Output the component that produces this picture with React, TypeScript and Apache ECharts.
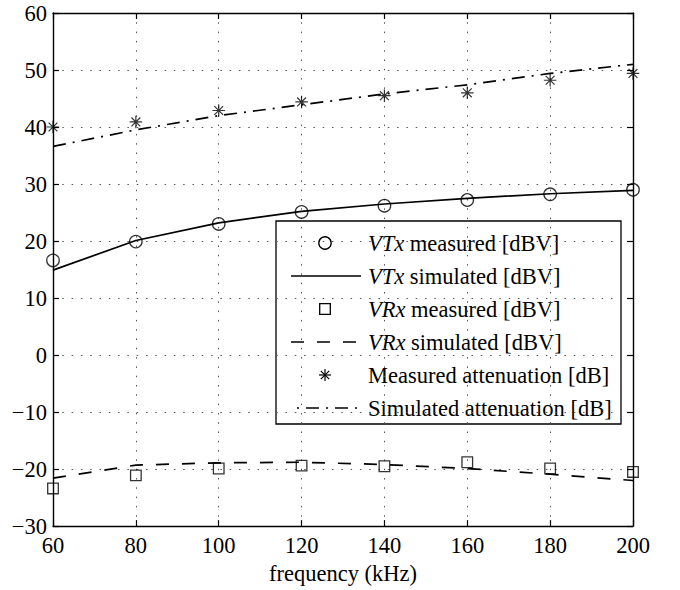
import React, { useEffect, useRef } from "react";
import * as echarts from "echarts";

const frequency = [60, 80, 100, 120, 140, 160, 180, 200];
const vtxMeasured = [16.6, 19.9, 23.0, 25.1, 26.2, 27.2, 28.2, 29.0];
const vtxSimulated = [14.9, 20.1, 23.2, 25.2, 26.5, 27.5, 28.3, 28.9];
const vrxMeasured = [-23.4, -21.1, -19.9, -19.4, -19.5, -18.8, -19.9, -20.5];
const vrxSimulated = [-21.6, -19.3, -18.9, -18.8, -19.2, -19.9, -20.9, -22.0];
const attMeasured = [40.0, 40.9, 42.9, 44.4, 45.5, 46.0, 48.2, 49.4];
const attSimulated = [36.6, 39.5, 42.0, 43.9, 45.8, 47.4, 49.4, 51.0];

const xTicks = { min: 60, max: 200, interval: 20 };
const yTicks = { min: -30, max: 60, interval: 10 };

const legendRows = [
  { text: "{i|VTx} measured [dBV]", kind: "circle" },
  { text: "{i|VTx} simulated [dBV]", kind: "solid" },
  { text: "{i|VRx} measured [dBV]", kind: "square" },
  { text: "{i|VRx} simulated [dBV]", kind: "dashed" },
  { text: "Measured attenuation [dB]", kind: "star" },
  { text: "Simulated attenuation [dB]", kind: "dashdot" },
];

const FONT = "Liberation Serif";
const FS = 22.5;
const STAR =
  "path://M0,-1L0,1M-1,0L1,0M-0.707,-0.707L0.707,0.707M-0.707,0.707L0.707,-0.707";
const DASHED = [13, 13];
const DASHDOT = [13, 7, 2, 7];
const LW = 1.7;

const pairs = (ys: number[]) => frequency.map((x, i) => [x, ys[i]]);
const fmtY = (v: number) => (v < 0 ? "\u2212" + Math.abs(v) : String(v));

function buildLegend() {
  const bx = 276, by = 221, bw = 345, bh = 203;
  const rowY = [243, 276, 309, 342, 375, 408];
  const symX = 325, lx1 = 291, lx2 = 361, tx = 368;
  const children: any[] = [
    {
      type: "rect",
      shape: { x: bx, y: by, width: bw, height: bh },
      style: { fill: "#fff", stroke: "#000", lineWidth: 1.3 },
    },
  ];
  legendRows.forEach((r, i) => {
    const y = rowY[i];
    if (r.kind === "circle") {
      children.push({
        type: "circle",
        shape: { cx: symX, cy: y, r: 6.2 },
        style: { fill: "none", stroke: "#000", lineWidth: 1.3 },
      });
    } else if (r.kind === "square") {
      children.push({
        type: "rect",
        shape: { x: symX - 5.3, y: y - 5.3, width: 10.6, height: 10.6 },
        style: { fill: "none", stroke: "#000", lineWidth: 1.3 },
      });
    } else if (r.kind === "star") {
      const s = 6, d = 4.2;
      const segs = [
        [0, -s, 0, s],
        [-s, 0, s, 0],
        [-d, -d, d, d],
        [-d, d, d, -d],
      ];
      segs.forEach((g) =>
        children.push({
          type: "line",
          shape: { x1: symX + g[0], y1: y + g[1], x2: symX + g[2], y2: y + g[3] },
          style: { stroke: "#000", lineWidth: 1.2 },
        })
      );
    } else {
      const style: any = { stroke: "#000", lineWidth: LW };
      if (r.kind === "dashed") style.lineDash = DASHED;
      if (r.kind === "dashdot") {
        style.lineDash = DASHDOT;
        style.lineDashOffset = 14;
      }
      children.push({
        type: "line",
        shape: { x1: lx1, y1: y, x2: lx2, y2: y },
        style,
      });
    }
    children.push({
      type: "text",
      x: tx,
      y: y,
      style: {
        text: r.text,
        fontSize: FS,
        fontFamily: FONT,
        fill: "#000",
        verticalAlign: "middle",
        align: "left",
        rich: {
          i: { fontStyle: "italic", fontSize: FS, fontFamily: FONT, fill: "#000" },
        },
      },
    });
  });
  return [{ type: "group", z: 100, children }];
}

export default function App() {
  const ref = useRef<HTMLDivElement>(null);
  useEffect(() => {
    if (!ref.current) return;
    const chart = echarts.init(ref.current, undefined, { renderer: "svg" });
    const axisLine = { show: true, onZero: false, lineStyle: { color: "#000", width: 1.4 } };
    const tick = { show: true, inside: true, length: 6, lineStyle: { color: "#000", width: 1.2 } };
    const split = {
      show: true,
      lineStyle: { color: "#555", width: 1, type: [1.5, 7.8] as any },
    };
    chart.setOption({
      animation: false,
      backgroundColor: "#fff",
      textStyle: { fontFamily: FONT },
      grid: { left: 53, right: 47, top: 13, bottom: 62, containLabel: false },
      xAxis: [
        {
          type: "value",
          position: "bottom",
          ...xTicks,
          axisLine,
          axisTick: tick,
          splitLine: split,
          axisLabel: { color: "#000", fontSize: FS, fontFamily: FONT, margin: 8 },
          name: "frequency (kHz)",
          nameLocation: "middle",
          nameGap: 34,
          nameTextStyle: { color: "#000", fontSize: FS, fontFamily: FONT },
        },
        {
          type: "value",
          position: "top",
          ...xTicks,
          axisLine,
          axisTick: tick,
          splitLine: { show: false },
          axisLabel: { show: false },
        },
      ],
      yAxis: [
        {
          type: "value",
          position: "left",
          ...yTicks,
          axisLine,
          axisTick: tick,
          splitLine: split,
          axisLabel: {
            color: "#000",
            fontSize: FS,
            fontFamily: FONT,
            margin: 6,
            formatter: fmtY,
          },
        },
        {
          type: "value",
          position: "right",
          ...yTicks,
          axisLine,
          axisTick: tick,
          splitLine: { show: false },
          axisLabel: { show: false },
        },
      ],
      series: [
        {
          name: "VTx simulated [dBV]",
          type: "line",
          data: pairs(vtxSimulated),
          symbol: "none",
          lineStyle: { color: "#000", width: LW },
        },
        {
          name: "VRx simulated [dBV]",
          type: "line",
          data: pairs(vrxSimulated),
          symbol: "none",
          lineStyle: { color: "#000", width: LW, type: DASHED },
        },
        {
          name: "Simulated attenuation [dB]",
          type: "line",
          data: pairs(attSimulated),
          symbol: "none",
          lineStyle: { color: "#000", width: LW, type: DASHDOT },
        },
        {
          name: "VTx measured [dBV]",
          type: "scatter",
          data: pairs(vtxMeasured),
          symbol: "circle",
          symbolSize: 12.5,
          itemStyle: { color: "transparent", borderColor: "#000", borderWidth: 1.3 },
        },
        {
          name: "VRx measured [dBV]",
          type: "scatter",
          data: pairs(vrxMeasured),
          symbol: "rect",
          symbolSize: 10.6,
          itemStyle: { color: "transparent", borderColor: "#000", borderWidth: 1.3 },
        },
        {
          name: "Measured attenuation [dB]",
          type: "scatter",
          data: pairs(attMeasured),
          symbol: STAR,
          symbolSize: 12.5,
          itemStyle: { color: "transparent", borderColor: "#000", borderWidth: 1.2 },
        },
      ],
      graphic: buildLegend(),
    });
    return () => chart.dispose();
  }, []);
  return (
    <div
      ref={ref}
      style={{ position: "absolute", left: 0, top: 0, width: 680, height: 590 }}
    />
  );
}
